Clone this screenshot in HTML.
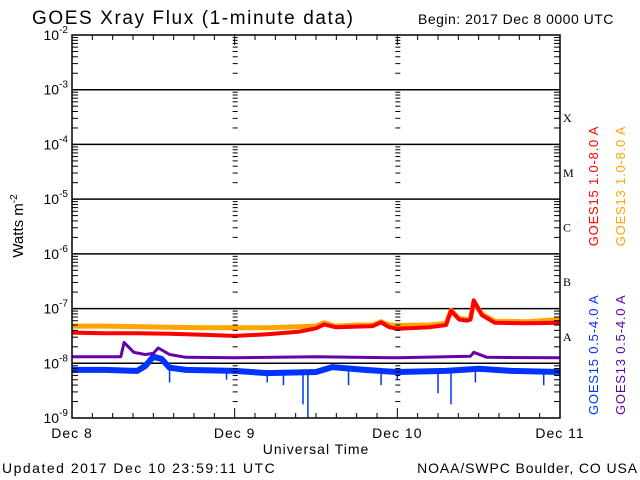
<!DOCTYPE html>
<html><head><meta charset="utf-8">
<style>
html,body{margin:0;padding:0;background:#fff;}
svg{display:block;font-family:"Liberation Sans",sans-serif;}
</style></head>
<body>
<svg id="chart" width="640" height="480" viewBox="0 0 640 480">
<text x="32" y="24" font-size="19" letter-spacing="1.6">GOES Xray Flux (1-minute data)</text>
<text x="418" y="24" font-size="14" letter-spacing="0.5">Begin:  2017 Dec 8 0000 UTC</text>
<text x="2" y="473" font-size="14" letter-spacing="1.5">Updated 2017 Dec 10 23:59:11 UTC</text>
<text x="638" y="473" font-size="14" letter-spacing="0.9" text-anchor="end">NOAA/SWPC Boulder, CO USA</text>
<text x="316" y="454" font-size="14" letter-spacing="1" text-anchor="middle">Universal Time</text>
<text transform="translate(23,226) rotate(-90)" font-size="15" text-anchor="middle">Watts m<tspan dy="-6" font-size="10">-2</tspan></text>
<text transform="translate(598,186) rotate(-90)" font-size="13" letter-spacing="0.8" text-anchor="middle" fill="#ff0000">GOES15 1.0-8.0 A</text>
<text transform="translate(625,186) rotate(-90)" font-size="13" letter-spacing="0.8" text-anchor="middle" fill="#ffa500">GOES13 1.0-8.0 A</text>
<text transform="translate(598,415) rotate(-90)" font-size="13" letter-spacing="0.8" text-anchor="start" fill="#0033ff">GOES15 0.5-4.0 A</text>
<text transform="translate(625,415) rotate(-90)" font-size="13" letter-spacing="0.8" text-anchor="start" fill="#6600aa">GOES13 0.5-4.0 A</text>
<g id="grid"></g>
<g id="series"></g>
<g id="axes"></g>
</svg>
<script>
const dayLabels = ["Dec 8","Dec 9","Dec 10","Dec 11"];
const decades = [-9,-8,-7,-6,-5,-4,-3,-2];
const classLabels = ["A","B","C","M","X"];
const classLogs = [-7.5,-6.5,-5.5,-4.5,-3.5];
const redT = [0,0.2,0.4,0.6,0.8,1.0,1.2,1.4,1.5,1.55,1.62,1.75,1.85,1.9,1.95,2.0,2.2,2.3,2.33,2.38,2.43,2.45,2.47,2.52,2.6,2.8,3.0];
const redV = [-7.44,-7.45,-7.45,-7.46,-7.48,-7.50,-7.47,-7.42,-7.36,-7.29,-7.34,-7.33,-7.32,-7.25,-7.34,-7.37,-7.34,-7.30,-7.04,-7.20,-7.22,-7.20,-6.85,-7.12,-7.26,-7.27,-7.26];
const orgT = [0,0.2,0.4,0.6,0.8,1.0,1.2,1.4,1.5,1.55,1.62,1.75,1.85,1.9,1.95,2.0,2.2,2.3,2.33,2.38,2.43,2.45,2.47,2.52,2.6,2.8,3.0];
const orgV = [-7.32,-7.32,-7.33,-7.34,-7.35,-7.35,-7.35,-7.33,-7.32,-7.26,-7.32,-7.30,-7.30,-7.24,-7.30,-7.31,-7.30,-7.27,-7.03,-7.18,-7.20,-7.18,-6.88,-7.10,-7.23,-7.24,-7.20];
const purT = [0,0.25,0.3,0.32,0.38,0.45,0.5,0.53,0.6,0.7,1.0,1.5,2.0,2.3,2.45,2.47,2.55,3.0];
const purV = [-7.88,-7.88,-7.88,-7.62,-7.80,-7.84,-7.82,-7.72,-7.84,-7.89,-7.90,-7.88,-7.90,-7.88,-7.87,-7.80,-7.89,-7.90];
const bluT = [0,0.2,0.4,0.45,0.5,0.55,0.6,0.7,1.0,1.2,1.5,1.6,1.8,2.0,2.3,2.5,2.7,3.0];
const bluV = [-8.12,-8.12,-8.14,-8.05,-7.88,-7.92,-8.08,-8.12,-8.14,-8.18,-8.16,-8.07,-8.12,-8.16,-8.14,-8.10,-8.14,-8.16];
const blueDipsT = [0.6,0.95,1.2,1.3,1.42,1.45,1.7,1.9,2.0,2.25,2.33,2.48,2.9];
const blueDipsV = [-8.35,-8.3,-8.35,-8.4,-8.75,-9.0,-8.4,-8.4,-8.3,-8.55,-8.75,-8.35,-8.4];

const L=72,R=560,T=35,B=418;
const xS = d => L + d/3*(R-L);
const yS = v => B - (v+9)/7*(B-T);
const NS="http://www.w3.org/2000/svg";
function mk(tag, parent, attrs){const e=document.createElementNS(NS,tag);for(const k in attrs)e.setAttribute(k,attrs[k]);parent.appendChild(e);return e;}
const grid=document.getElementById('grid'), axes=document.getElementById('axes'), ser=document.getElementById('series');

decades.forEach(dv=>{
  const y=yS(dv);
  if(dv>-9 && dv<-2){const ln=mk('line',grid,{x1:L,x2:R,y1:y,y2:y,stroke:'#000','stroke-width':1.5});
    
    }
  const t=mk('text',axes,{x:L-4,y:y+5,'font-size':14,'text-anchor':'end'});
  
  
  t.innerHTML='10<tspan dy="-7" font-size="10">'+dv+'</tspan>';
  if(dv<-2){for(let m=2;m<=9;m++){const yy=y-Math.log10(m)*(B-T)/7;
    [[L,L+6],[R-6,R],[xS(1)-2,xS(1)+3],[xS(2)-2,xS(2)+3]].forEach(p=>{
      const tk=mk('line',axes,{x1:p[0],x2:p[1],y1:yy,y2:yy,stroke:'#000','stroke-width':1});
      
      });}}
});
for(let h=0;h<=72;h+=3){const x=xS(h/24);const len=(h%24===0)?10:5;
  [[T,T+len],[B-len,B]].forEach(p=>{const tk=mk('line',axes,{x1:x,x2:x,y1:p[0],y2:p[1],stroke:'#000','stroke-width':1});
    
    });}
dayLabels.forEach((s,i)=>{const t=mk('text',axes,{x:xS(i),y:438,'font-size':14,'text-anchor':'middle','letter-spacing':1});
  
  
  t.textContent=s;});
classLabels.forEach((s,i)=>{const t=mk('text',axes,{x:563,y:yS(classLogs[i])+5,'font-size':12,'font-family':'Liberation Serif'});
  
  
  t.textContent=s;});
const frame=mk('rect',axes,{x:L,y:T,width:R-L,height:B-T,fill:'none',stroke:'#000','stroke-width':1.5});



function line(ts,vs,color,w,name){
  const d=ts.map((t,i)=>(i?'L':'M')+xS(t).toFixed(1)+','+yS(vs[i]).toFixed(1)).join('');
  const p=mk('path',ser,{d:d,fill:'none',stroke:color,'stroke-width':w,'stroke-linejoin':'round'});
  
  
}
line(bluT,bluV,'#0033ff',6,'goes15-short-line');
blueDipsT.forEach((t,i)=>{
  const base=yS(-8.12);
  const dl=mk('line',ser,{x1:xS(t),x2:xS(t),y1:base,y2:yS(blueDipsV[i]),stroke:'#0033ff','stroke-width':1.5});
  
  
});
line(purT,purV,'#6600aa',3,'goes13-short-line');
line(orgT,orgV,'#ffa500',5,'goes13-long-line');
line(redT,redV,'#ff0000',4,'goes15-long-line');
</script>
</body></html>
